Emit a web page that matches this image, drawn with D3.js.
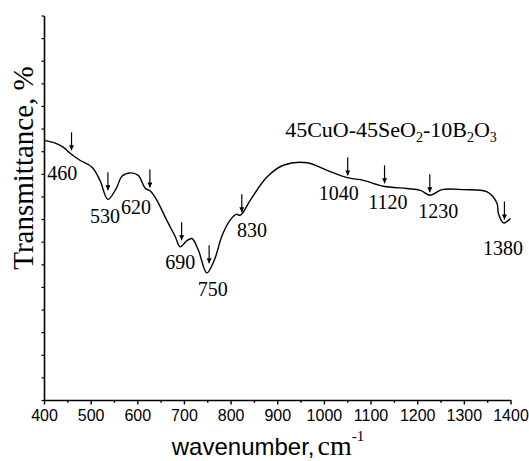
<!DOCTYPE html>
<html>
<head>
<meta charset="utf-8">
<script src="https://cdn.jsdelivr.net/npm/d3@7"></script>
<style>
  body { margin: 0; background: #fff; }
  .serif { font-family: "Liberation Serif", "Times New Roman", serif; }
  .sans { font-family: "Liberation Sans", Arial, sans-serif; }
</style>
</head>
<body>
<div id="chart"></div>
<script>
// IR spectrum of 45CuO-45SeO2-10B2O3 glass
var wavenumbers = [400, 424, 441, 456, 477, 503, 520, 537, 555, 567, 585, 602, 617, 628, 642, 663, 681, 692, 705, 717, 731, 749, 765, 782, 799, 812, 821, 842, 878, 913, 964, 1007, 1050, 1085, 1128, 1178, 1207, 1228, 1253, 1299, 1350, 1371, 1374, 1385, 1400]
var transmittance = [11.48, 11.36, 11.18, 10.91, 10.60, 10.29, 9.71, 8.87, 9.36, 9.89, 10.04, 9.93, 9.36, 9.24, 8.83, 7.95, 7.24, 6.77, 7.02, 7.14, 6.62, 5.62, 6.18, 7.28, 7.95, 8.21, 8.17, 8.83, 9.86, 10.38, 10.49, 10.15, 9.83, 9.71, 9.45, 9.35, 9.27, 9.05, 9.30, 9.30, 9.20, 8.70, 8.26, 7.83, 8.02]

// band annotations: arrow at wavenumber, arrow tip value, label anchor (wn, value)
var peakLabels = ["460", "530", "620", "690", "750", "830", "1040", "1120", "1230", "1380"]
var arrowWn = [459, 537, 627, 695, 754, 824, 1051, 1130, 1227, 1387]
var arrowTip = [11.04, 9.27, 9.40, 7.06, 6.05, 8.30, 9.93, 9.58, 9.18, 7.98]
var labelWn = [439, 531, 597, 692, 762, 846, 1032, 1137, 1245, 1384]
var labelVal = [9.71, 7.81, 8.21, 5.78, 4.59, 7.20, 8.83, 8.43, 8.04, 6.40]

var xTicks = [400, 500, 600, 700, 800, 900, 1000, 1100, 1200, 1300, 1400]

var w = 529, h = 461
var padLeft = 44, padRight = 510.5, padTop = 15.5, padBottom = 400

var svg = d3.select("#chart").append("svg")
    .attr("width", w)
    .attr("height", h)

var x = d3.scaleLinear().domain([400, 1400]).range([padLeft, padRight])
var y = d3.scaleLinear().domain([0, 17]).range([padBottom, padTop])

// x axis: major ticks every 100, minor every 50
var xAxis = svg.append("g")
    .attr("transform", "translate(0," + padBottom + ")")
    .call(d3.axisBottom(x).tickValues(xTicks).tickFormat(d3.format("d"))
        .tickSize(4.5).tickSizeOuter(0).tickPadding(5))
xAxis.select(".domain").attr("stroke-width", 1.6)
xAxis.selectAll(".tick line").attr("stroke-width", 1.4)
xAxis.selectAll("text")
    .attr("class", "sans")
    .attr("font-size", 16)
    .attr("fill", "#000")

svg.append("g")
    .attr("transform", "translate(0," + padBottom + ")")
    .call(d3.axisBottom(x).tickValues(d3.range(450, 1400, 100)).tickSize(2.8).tickFormat(""))
    .call(function (g) { g.select(".domain").remove() })
    .selectAll(".tick line").attr("stroke-width", 1.4)

// y axis: ticks only, no labels
var yAxis = svg.append("g")
    .attr("transform", "translate(" + padLeft + ",0)")
    .call(d3.axisLeft(y).ticks(17).tickSize(2.5).tickSizeOuter(0).tickFormat(""))
yAxis.select(".domain").attr("stroke-width", 1.6)
yAxis.selectAll(".tick line").attr("stroke-width", 1.2)

// spectrum
var data = wavenumbers.map(function (d, i) { return {wn: d, t: transmittance[i]} })
var line = d3.line()
    .x(function (d) { return x(d.wn) })
    .y(function (d) { return y(d.t) })
    .curve(d3.curveCatmullRom.alpha(0.5))

svg.append("path")
    .datum(data)
    .attr("fill", "none")
    .attr("stroke", "#000")
    .attr("stroke-width", 1.4)
    .attr("d", line)

// arrows
svg.append("defs").append("marker")
    .attr("id", "head")
    .attr("viewBox", "0 0 10 10")
    .attr("refX", 10)
    .attr("refY", 5)
    .attr("markerUnits", "userSpaceOnUse")
    .attr("markerWidth", 8)
    .attr("markerHeight", 5)
    .attr("orient", "auto")
    .append("path")
    .attr("d", "M0,0 L10,5 L0,10 Z")
    .attr("fill", "#000")

var arrowLen = 18
peakLabels.forEach(function (lab, i) {
    var ax = x(arrowWn[i]), tip = y(arrowTip[i])
    svg.append("line")
        .attr("x1", ax).attr("x2", ax)
        .attr("y1", tip - arrowLen).attr("y2", tip)
        .attr("stroke", "#000")
        .attr("stroke-width", 1.2)
        .attr("marker-end", "url(#head)")
    svg.append("text")
        .attr("class", "serif")
        .attr("x", x(labelWn[i]))
        .attr("y", y(labelVal[i]))
        .attr("text-anchor", "middle")
        .attr("font-size", 20)
        .text(lab)
})

// sample composition
var title = svg.append("text")
    .attr("class", "serif")
    .attr("x", x(917))
    .attr("y", y(11.62))
    .attr("font-size", 22)
title.append("tspan").text("45CuO-45SeO")
title.append("tspan").attr("font-size", 14).attr("dy", 5).text("2")
title.append("tspan").attr("dy", -5).text("-10B")
title.append("tspan").attr("font-size", 14).attr("dy", 5).text("2")
title.append("tspan").attr("dy", -5).text("O")
title.append("tspan").attr("font-size", 14).attr("dy", 5).text("3")

// axis titles
svg.append("text")
    .attr("class", "serif")
    .attr("transform", "translate(33,168) rotate(-90)")
    .attr("text-anchor", "middle")
    .attr("font-size", 29)
    .text("Transmittance, %")

var xt = svg.append("text")
    .attr("x", 268)
    .attr("y", 455)
    .attr("text-anchor", "middle")
xt.append("tspan").attr("class", "sans").attr("font-size", 24).text("wavenumber,")
xt.append("tspan").attr("class", "serif").attr("font-size", 28).attr("dx", 3).text("cm")
xt.append("tspan").attr("class", "serif").attr("font-size", 15).attr("dy", -14).text("-1")
</script>
</body>
</html>
